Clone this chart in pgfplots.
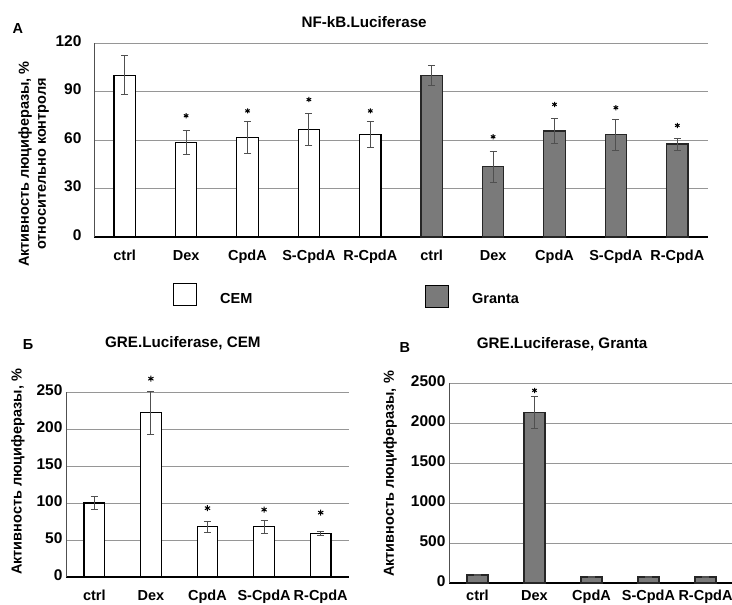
\documentclass[border=0pt]{standalone}
\usepackage{fontspec}
\setmainfont{Liberation Sans}
\usepackage{pgfplots}
\pgfplotsset{compat=1.18}
\definecolor{barg}{RGB}{122,122,122}
\definecolor{gridc}{RGB}{150,150,150}
\definecolor{errc}{RGB}{80,80,80}
\newcommand{\tf}{\fontsize{14.5}{17}\selectfont\bfseries}
\newcommand{\yf}{\fontsize{15.5}{17}\selectfont\bfseries}
\newcommand{\ttlf}{\fontsize{15.2}{17}\selectfont\bfseries}
\pgfplotsset{
  common/.style={
    scale only axis,
    axis lines=left,
    axis line style={-},
    x axis line style={black, line width=1.2pt},
    y axis line style={errc, line width=0.9pt},
    ymajorgrids, grid style={gridc, line width=0.9pt},
    major tick length=0pt,
    /pgf/number format/assume math mode=true,
    typeset ticklabels with strut,
    xticklabel style={font=\tf},
    yticklabel style={font=\yf},
    label style={font=\tf},
    title style={font=\ttlf},
    every axis title shift=0pt,
    clip=false,
  },
  errs/.style={
    error bars/y dir=both, error bars/y explicit,
    error bars/error bar style={errc, line width=0.9pt},
    error bars/error mark options={rotate=90, mark size=3.5pt, errc, line width=0.9pt}},
  cembar/.style={ybar, bar width=21.5pt, bar shift=0pt, fill=white, draw=black, line width=1.2pt, errs},
  grbar/.style={ybar, bar width=21.5pt, bar shift=0pt, fill=barg, draw=black!85, line width=1.2pt, errs},
  stars/.style={only marks, mark=asterisk, mark size=2.6pt, mark options={black, line width=1pt}, forget plot},
}
\begin{document}
\begin{tikzpicture}
% ---------------- Panel A ----------------
\begin{axis}[common,
  at={(94pt,368pt)}, anchor=south west,
  width=614pt, height=194pt,
  xmin=-0.5, xmax=9.5, ymin=0, ymax=120,
  ytick={0,30,60,90,120},
  xtick={0,...,9},
  xticklabels={ctrl,Dex,CpdA,S-CpdA,R-CpdA,ctrl,Dex,CpdA,S-CpdA,R-CpdA},
  xticklabel style={yshift=-8pt},
  yticklabel style={xshift=-9pt},
  ylabel={Активность люциферазы, \%\\относительно контроля},
  ylabel style={at={(axis description cs:-0.0985,0.376)}, anchor=center, align=center},
  title={NF-kB.Luciferase},
  title style={at={(axis description cs:0.44,1.108)}, anchor=center},
  legend columns=2,
  legend cell align=left,
  legend style={at={(axis description cs:0.1287,-0.237)}, anchor=north west,
    draw=none, fill=none, inner sep=0pt, font=\tf,
    /tikz/every odd column/.style={column sep=21pt},
    /tikz/every even column/.style={column sep=0pt}},
]
\addplot[cembar, legend image code/.code={\draw[fill=white, draw=black, line width=1pt] (0pt,-6pt) rectangle (23pt,16pt);}]
  coordinates {(0,100) +- (0,12) (1,58.3) +- (0,7.5) (2,61.4) +- (0,10) (3,66.4) +- (0,10) (4,63.5) +- (0,8)};
\addlegendentry{\makebox[203pt][l]{CEM}}
\addplot[grbar, legend image code/.code={\draw[fill=barg, draw=black, line width=1pt] (0pt,-8pt) rectangle (23pt,14pt);}]
  coordinates {(5,100) +- (0,6) (6,43.5) +- (0,9.5) (7,65.6) +- (0,8) (8,63.3) +- (0,9.5) (9,57.5) +- (0,3.7)};
\addlegendentry{Granta}
\addplot[stars] coordinates {(1,75) (2,78) (3,85) (4,78) (6,62) (7,82) (8,80) (9,69)};
\node[font=\tf] at (axis description cs:-0.124,1.077) {А};
\end{axis}
% ---------------- Panel B (Б) ----------------
\begin{axis}[common,
  at={(66pt,28pt)}, anchor=south west,
  width=283pt, height=185pt,
  xmin=-0.5, xmax=4.5, ymin=0, ymax=250,
  ytick={0,50,100,150,200,250},
  xtick={0,...,4},
  xticklabels={ctrl,Dex,CpdA,S-CpdA,R-CpdA},
  xticklabel style={yshift=-8pt},
  ylabel={Активность люциферазы, \%},
  ylabel style={at={(axis description cs:-0.170,0.568)}, anchor=center},
  title={GRE.Luciferase, CEM},
  title style={at={(axis description cs:0.413,1.265)}, anchor=center},
]
\addplot[cembar, bar width=20.7pt]
  coordinates {(0,100) +- (0,9) (1,222) +- (0,29) (2,68) +- (0,7.5) (3,68) +- (0,9) (4,59) +- (0,2.5)};
\addplot[stars, mark size=3pt] coordinates {(1,268) (2,93) (3,91) (4,87)};
\node[font=\tf] at (axis description cs:-0.134,1.259) {Б};
\end{axis}
% ---------------- Panel C (В) ----------------
\begin{axis}[common,
  at={(449pt,22pt)}, anchor=south west,
  width=285pt, height=200pt,
  xmin=-0.5, xmax=4.5, ymin=0, ymax=2500,
  ytick={0,500,1000,1500,2000,2500},
  yticklabel style={/pgf/number format/1000 sep={}},
  xtick={0,...,4},
  xticklabels={ctrl,Dex,CpdA,S-CpdA,R-CpdA},
  xticklabel style={yshift=-2.5pt},
  ylabel={Активность люциферазы, \%},
  ylabel style={at={(axis description cs:-0.207,0.545)}, anchor=center},
  title={GRE.Luciferase, Granta},
  title style={at={(axis description cs:0.397,1.195)}, anchor=center},
]
\addplot[grbar, bar width=21pt]
  coordinates {(0,100) +- (0,10) (1,2131) +- (0,205) (2,75) +- (0,10) (3,75) +- (0,10) (4,75) +- (0,10)};
\addplot[stars, mark size=2.6pt] coordinates {(1,2407)};
\node[font=\tf] at (axis description cs:-0.155,1.175) {В};
\end{axis}
\pgfresetboundingbox
\path[use as bounding box] (0pt,0pt) rectangle (732pt,605pt);
\end{tikzpicture}
\end{document}
